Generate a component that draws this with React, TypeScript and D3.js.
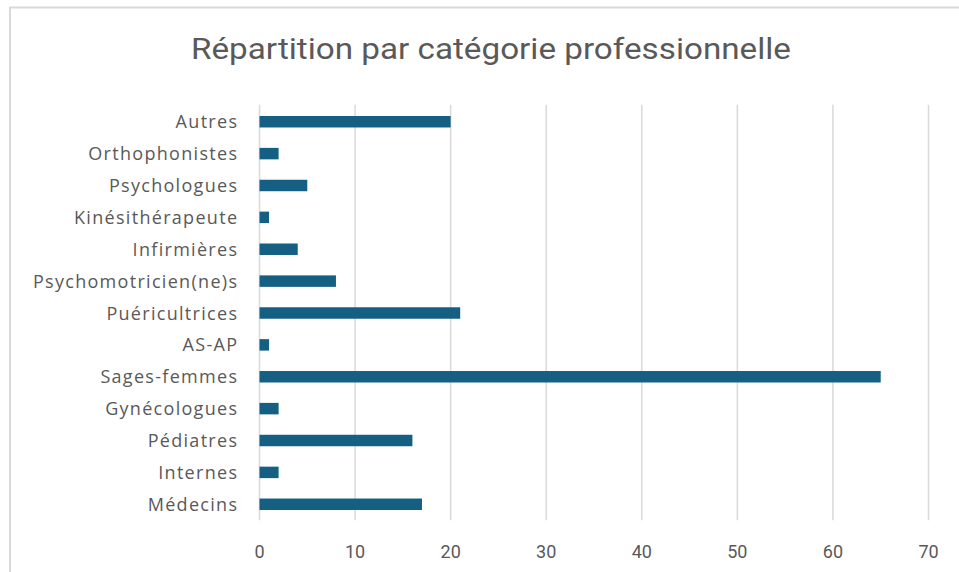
import { useRef, useEffect } from 'react'
import * as d3 from 'd3'

const categories = [
  'Autres',
  'Orthophonistes',
  'Psychologues',
  'Kinésithérapeute',
  'Infirmières',
  'Psychomotricien(ne)s',
  'Puéricultrices',
  'AS-AP',
  'Sages-femmes',
  'Gynécologues',
  'Pédiatres',
  'Internes',
  'Médecins'
]
const counts = [20, 2, 5, 1, 4, 8, 21, 1, 65, 2, 16, 2, 17]
const xTicks = [0, 10, 20, 30, 40, 50, 60, 70]

const title = 'Répartition par catégorie professionnelle'

export default function App() {
  const svgRef = useRef<SVGSVGElement>(null)

  useEffect(() => {
    if (!svgRef.current) return
    const svg = d3.select(svgRef.current)
    svg.selectAll('*').remove()

    const width = 959
    const height = 572
    const plot = { left: 259.5, right: 928.5, top: 105.8, bottom: 520.2 }

    const x = d3.scaleLinear().domain([0, 70]).range([plot.left, plot.right])
    const y = d3.scaleBand<string>()
      .domain(categories)
      .range([plot.top, plot.bottom])
      .paddingInner(0.64)
      .paddingOuter(0.32)

    svg.append('rect')
      .attr('width', width)
      .attr('height', height)
      .attr('fill', '#ffffff')

    // chart frame (only left and top edges are visible in the crop)
    svg.append('path')
      .attr('d', `M10,${height} L10,7.5 L${width},7.5`)
      .attr('fill', 'none')
      .attr('stroke', '#d9d9d9')
      .attr('stroke-width', 2)

    svg.append('text')
      .attr('x', 191)
      .attr('y', 58.5)
      .attr('font-family', 'Roboto, sans-serif')
      .attr('font-size', 29)
      .attr('fill', '#595959')
      .attr('textLength', 600)
      .attr('lengthAdjust', 'spacingAndGlyphs')
      .text(title)

    // vertical gridlines
    svg.append('g')
      .selectAll('line')
      .data(xTicks)
      .join('line')
      .attr('x1', d => x(d))
      .attr('x2', d => x(d))
      .attr('y1', plot.top - 1)
      .attr('y2', plot.bottom)
      .attr('stroke', '#d9d9d9')
      .attr('stroke-width', 1.5)

    svg.append('g')
      .selectAll('text')
      .data(xTicks)
      .join('text')
      .attr('x', d => x(d))
      .attr('y', 558)
      .attr('text-anchor', 'middle')
      .attr('font-family', 'Roboto, sans-serif')
      .attr('font-size', 18)
      .attr('fill', '#595959')
      .text(d => d)

    svg.append('g')
      .selectAll('rect')
      .data(categories)
      .join('rect')
      .attr('x', x(0))
      .attr('y', d => y(d) ?? 0)
      .attr('width', (_, i) => x(counts[i]) - x(0))
      .attr('height', y.bandwidth())
      .attr('fill', '#156082')

    svg.append('g')
      .selectAll('text')
      .data(categories)
      .join('text')
      .attr('x', 238.3)
      .attr('y', d => (y(d) ?? 0) + y.bandwidth() / 2 + 6.6)
      .attr('text-anchor', 'end')
      .attr('font-family', '"Open Sans", sans-serif')
      .attr('font-size', 18)
      .attr('letter-spacing', 1.3)
      .attr('fill', '#595959')
      .text(d => d)
  }, [])

  return (
    <svg
      ref={svgRef}
      width={959}
      height={572}
      style={{ position: 'absolute', left: 0, top: 0, display: 'block' }}
    />
  )
}
